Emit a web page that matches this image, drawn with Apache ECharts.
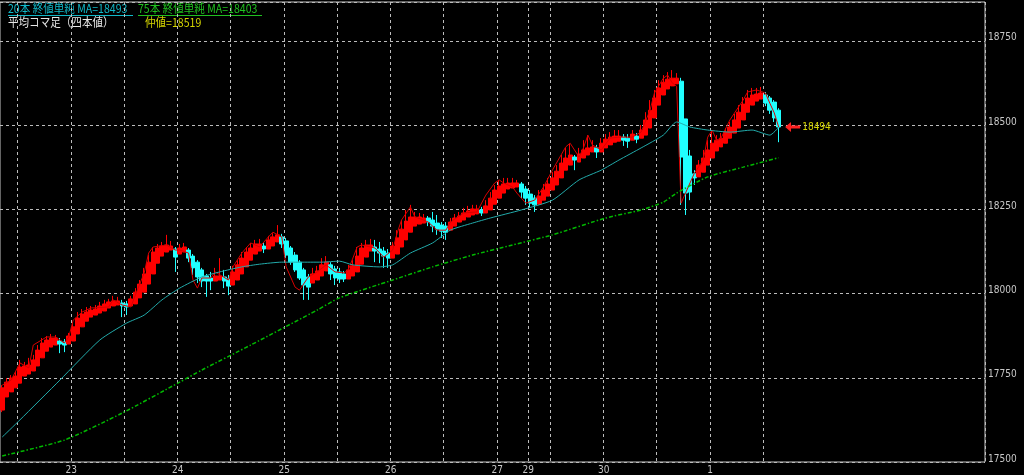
<!DOCTYPE html>
<html><head><meta charset="utf-8">
<script src="https://cdn.jsdelivr.net/npm/echarts@6/dist/echarts.min.js"></script>
<style>html,body{margin:0;padding:0;background:#000;}#c{width:1024px;height:475px;}</style>
</head><body><div id="c"></div>
<script>
// trading sessions: [day, first hour, last hour] (hourly candles)
const sessions = [[22,8,23],[23,0,23],[24,0,23],[25,0,23],[26,0,23],[27,0,6],[29,7,23],[30,0,23],[1,0,23]];
const TOTAL_SLOTS = 222;

// Heikin-Ashi (平均コマ足) candles
const haOpen = [17654,17693,17708,17720,17734,17755,17761,17770,17785,17809,
17829,17841,17847,17859,17856,17850,17859,17880,17901,17918,
17930,17936,17942,17948,17957,17963,17966,17972,17969,17963,
17969,17987,18004,18028,18058,18090,18111,18123,18129,18132,
18117,18123,18129,18111,18093,18070,18052,18046,18037,18040,
18049,18043,18025,18040,18058,18079,18099,18117,18126,18141,
18132,18141,18153,18168,18156,18135,18114,18093,18070,18049,
18031,18040,18052,18067,18085,18073,18064,18058,18043,18052,
18064,18087,18108,18126,18138,18132,18126,18120,18105,18117,
18138,18159,18182,18200,18206,18209,18224,18218,18209,18203,
18200,18188,18200,18212,18218,18227,18233,18236,18248,18239,
18248,18265,18283,18298,18310,18313,18316,18325,18310,18295,
18283,18265,18277,18289,18307,18322,18343,18366,18381,18405,
18390,18402,18411,18420,18432,18420,18432,18441,18449,18452,
18464,18461,18455,18467,18461,18470,18491,18521,18559,18589,
18607,18616,18622,18630,18518,18408,18355,18346,18360,18381,
18402,18423,18435,18446,18461,18476,18491,18515,18538,18559,
18571,18577,18589,18580,18568,18544];
const haClose = [17720,17737,17749,17755,17782,17785,17788,17803,17832,17853,
17862,17868,17868,17850,17847,17874,17901,17927,17939,17945,
17951,17954,17963,17969,17975,17978,17978,17963,17960,17984,
18004,18028,18058,18093,18123,18135,18141,18144,18141,18108,
18135,18138,18105,18076,18049,18037,18037,18037,18052,18052,
18037,18022,18064,18085,18105,18123,18135,18147,18147,18132,
18159,18168,18174,18147,18114,18093,18070,18046,18025,18019,
18058,18067,18085,18093,18058,18046,18043,18043,18070,18082,
18111,18135,18144,18144,18126,18120,18111,18105,18141,18165,
18191,18215,18227,18227,18227,18224,18212,18200,18191,18185,
18182,18212,18224,18230,18239,18245,18251,18251,18239,18260,
18283,18307,18319,18325,18328,18328,18328,18301,18283,18268,
18263,18289,18307,18325,18343,18363,18387,18402,18411,18396,
18414,18426,18432,18435,18420,18446,18458,18464,18467,18467,
18455,18452,18473,18458,18485,18515,18544,18580,18610,18627,
18636,18639,18639,18405,18298,18301,18343,18381,18402,18426,
18446,18455,18461,18479,18494,18515,18538,18562,18580,18589,
18592,18595,18565,18544,18521,18494];
const haHigh = [17728,17749,17758,17767,17803,17797,17809,17818,17847,17868,
17874,17880,17877,17868,17865,17883,17915,17945,17954,17960,
17963,17966,17975,17981,17984,17993,17990,17981,17978,17993,
18016,18040,18076,18114,18138,18147,18153,18174,18156,18138,
18147,18150,18135,18117,18099,18076,18058,18064,18076,18105,
18070,18055,18082,18099,18123,18138,18150,18159,18162,18150,
18171,18179,18203,18177,18165,18141,18123,18099,18076,18058,
18076,18082,18105,18111,18093,18082,18076,18067,18085,18099,
18138,18150,18159,18162,18159,18153,18138,18132,18153,18188,
18218,18248,18263,18242,18239,18236,18230,18242,18233,18212,
18212,18224,18236,18242,18254,18260,18263,18263,18257,18277,
18301,18322,18337,18343,18343,18343,18337,18331,18319,18307,
18292,18307,18325,18343,18360,18381,18411,18432,18444,18411,
18432,18455,18470,18455,18441,18461,18473,18479,18485,18485,
18473,18473,18485,18476,18500,18538,18574,18604,18633,18648,
18657,18663,18654,18640,18518,18426,18366,18396,18426,18455,
18485,18470,18476,18491,18509,18533,18559,18583,18604,18610,
18610,18613,18598,18586,18574,18550];
const haLow = [17648,17693,17708,17720,17734,17755,17761,17770,17785,17809,
17829,17841,17847,17823,17826,17850,17859,17880,17901,17918,
17930,17936,17942,17948,17957,17963,17966,17930,17936,17963,
17969,17987,18004,18028,18058,18090,18111,18123,18129,18064,
18117,18123,18093,18055,18031,18019,17990,18010,18037,18040,
18016,17995,18025,18040,18058,18079,18099,18117,18126,18120,
18132,18141,18153,18135,18105,18085,18064,18040,17981,17981,
18031,18040,18052,18067,18040,18025,18031,18034,18043,18052,
18064,18087,18108,18126,18093,18090,18076,18076,18105,18117,
18138,18159,18182,18200,18206,18209,18200,18182,18174,18165,
18159,18188,18200,18212,18218,18227,18233,18236,18230,18239,
18248,18265,18283,18298,18310,18313,18316,18283,18263,18254,
18242,18265,18277,18289,18307,18322,18343,18366,18381,18366,
18390,18402,18411,18420,18402,18420,18432,18441,18449,18452,
18438,18432,18455,18446,18461,18470,18491,18521,18559,18589,
18607,18616,18622,18263,18233,18277,18322,18346,18360,18381,
18402,18423,18435,18446,18461,18476,18491,18515,18538,18559,
18571,18577,18556,18533,18509,18449];

// actual close line [slot, value]
const closeLine = [[0,17728],[2,17743],[4,17794],[6,17779],[7,17847],[10,17871],[12,17871],[14,17853],[15,17871],[16,17921],[18,17945],[20,17957],[24,17960],[25,17981],[27,17966],[29,17960],[30,17995],[32,18061],[33,18120],[34,18138],[37,18144],[39,18129],[40,18129],[42,18120],[43,18040],[44,18016],[45,18046],[47,18046],[48,18064],[51,18040],[52,18079],[54,18120],[56,18150],[58,18138],[60,18168],[61,18182],[63,18168],[64,18079],[66,18019],[67,18010],[69,18049],[71,18064],[73,18085],[75,18064],[77,18061],[78,18070],[80,18138],[81,18144],[84,18135],[86,18108],[88,18129],[89,18179],[90,18218],[92,18257],[93,18227],[95,18218],[96,18212],[98,18188],[100,18188],[101,18212],[104,18239],[107,18242],[109,18292],[111,18328],[112,18337],[113,18328],[115,18316],[116,18298],[118,18268],[120,18277],[122,18316],[124,18366],[127,18435],[128,18446],[130,18405],[131,18432],[132,18470],[133,18441],[135,18426],[137,18461],[139,18464],[142,18464],[144,18479],[146,18544],[147,18595],[149,18639],[150,18648],[151,18625],[152,18615],[153,18268],[154,18298],[156,18357],[158,18396],[159,18464],[160,18485],[161,18455],[162,18461],[164,18515],[167,18574],[168,18598],[170,18604],[172,18595],[173,18565],[174,18536],[175,18494]];

// moving averages [slot, value]
const ma20 = [[0,17574],[4,17625],[13,17743],[22,17862],[28,17912],[32,17936],[36,17981],[40,18016],[45,18049],[49,18064],[54,18079],[58,18087],[63,18093],[67,18093],[72,18093],[76,18096],[79,18085],[85,18079],[88,18085],[92,18120],[97,18150],[101,18188],[106,18209],[110,18224],[117,18248],[124,18277],[130,18337],[135,18366],[139,18396],[144,18432],[149,18470],[152,18509],[155,18494],[159,18485],[164,18479],[169,18485],[173,18470],[175,18493]];
const ma75 = [[0,17518],[14,17565],[27,17645],[40,17737],[45,17773],[56,17847],[71,17951],[76,17987],[88,18040],[97,18079],[106,18114],[115,18144],[124,18174],[136,18224],[144,18248],[149,18271],[152,18298],[159,18346],[167,18375],[175,18403]];
const midPrice = 18519;

// y-axis ticks
const yMin = 17500, yMax = 18865, yStep = 250;

// ---- build categories ----
const cats = [], catDay = [], catHour = [], sessStart = new Set();
sessions.forEach(([d, h0, h1]) => {
  sessStart.add(cats.length);
  for (let h = h0; h <= h1; h++) { cats.push(d + '/' + h); catDay.push(d); catHour.push(h); }
});
const nData = haOpen.length;
while (cats.length < TOTAL_SLOTS) { cats.push('p' + cats.length); catDay.push(null); catHour.push(null); }

const candles = haOpen.map((o, i) => [o, haClose[i], haLow[i], haHigh[i]]);
const last = nData - 1;

const isLabel = i => i > 0 && i < nData && (catHour[i] === 0 || sessStart.has(i));
const isGrid = i => i > 0 && i < nData && (catHour[i] === 0 || catHour[i] === 12 || sessStart.has(i));

const narrow = '"Liberation Sans Narrow","DejaVu Sans Condensed",Arial,sans-serif';
const jp = '"Noto Sans CJK JP","Noto Sans",sans-serif';
const gridLine = { type: [3, 3], color: '#bcbcbc', width: 1 };
const SX = 0.88;

const chart = echarts.init(document.getElementById('c'), null, { renderer: 'canvas' });
chart.setOption({
  backgroundColor: '#000',
  animation: false,
  grid: { left: -1, right: 39, top: 2, bottom: 13, show: true, borderColor: '#c8c8c8', borderWidth: 1, backgroundColor: 'transparent' },
  xAxis: {
    type: 'category', data: cats, boundaryGap: true,
    axisLine: { show: false }, axisTick: { show: false },
    axisLabel: { interval: (i) => isLabel(i), formatter: (v, i) => String(catDay[i]), color: '#c8c8c8', fontFamily: narrow, fontSize: 10, margin: 3, padding: [0, 4, 0, 0] },
    splitLine: { show: true, interval: (i) => isGrid(i), lineStyle: gridLine }
  },
  yAxis: {
    type: 'value', position: 'right', min: yMin, max: yMax, interval: yStep, scale: true,
    axisLine: { show: false }, axisTick: { show: false },
    axisLabel: { color: '#c8c8c8', fontFamily: narrow, fontSize: 10, margin: 3, showMaxLabel: false, formatter: v => String(v), verticalAlign: 'bottom', lineHeight: 6 },
    splitLine: { show: true, lineStyle: gridLine }
  },
  series: [
    {
      type: 'candlestick', data: candles, barWidth: '100%',
      itemStyle: { color: '#ff0000', color0: '#20ffff', borderColor: '#ff0000', borderColor0: '#20ffff', borderWidth: 1 },
      markPoint: {
        data: [{
          coord: [cats[last], haClose[last]],
          symbol: 'path://M0,5 L7,0 L7,3.5 L18,3.5 L18,6.5 L7,6.5 L7,10 Z',
          symbolSize: [15, 10], symbolOffset: [14, 0],
          itemStyle: { color: '#ff2020' },
          label: { show: true, position: 'right', distance: 2, formatter: String(haClose[last]), color: '#d4d400', fontFamily: narrow, fontSize: 10 }
        }]
      },
      z: 2
    },
    { type: 'line', data: closeLine, showSymbol: false, lineStyle: { color: '#d80000', width: 1 }, z: 3 },
    { type: 'line', data: ma20, showSymbol: false, smooth: 0.2, lineStyle: { color: '#22abab', width: 1 }, z: 4 },
    { type: 'line', data: ma75, showSymbol: false, smooth: 0.2, lineStyle: { color: '#00b800', width: 1.5, type: [4, 2, 1.5, 2] }, z: 4 }
  ],
  graphic: [
    { type: 'text', x: 8, y: 2, scaleX: SX, style: { text: '20本 終値単純 MA=' + ma20[ma20.length - 1][1], fill: '#10b8c8', font: '12px ' + jp } },
    { type: 'line', shape: { x1: 8, y1: 15.5, x2: 133, y2: 15.5 }, style: { stroke: '#10b8c8', lineWidth: 1 } },
    { type: 'text', x: 138, y: 2, scaleX: SX, style: { text: '75本 終値単純 MA=' + ma75[ma75.length - 1][1], fill: '#20c020', font: '12px ' + jp } },
    { type: 'line', shape: { x1: 138, y1: 15.5, x2: 262, y2: 15.5 }, style: { stroke: '#20c020', lineWidth: 1 } },
    { type: 'text', x: 8, y: 16, scaleX: SX, style: { text: '平均コマ足（四本値）', fill: '#e6e6e6', font: '12px ' + jp } },
    { type: 'text', x: 145, y: 16, scaleX: SX, style: { text: '仲値=' + midPrice, fill: '#d4d400', font: '12px ' + jp } }
  ]
});
</script>
</body></html>
